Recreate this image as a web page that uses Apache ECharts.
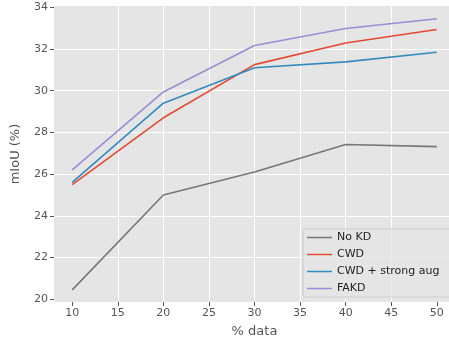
<!DOCTYPE html>
<html lang="en">
<head>
<meta charset="UTF-8">
<title>mIoU vs data</title>
<script src="https://cdn.jsdelivr.net/npm/echarts@6/dist/echarts.min.js"></script>
</head>
<body style="margin:0;background:#fff;overflow:hidden;">
<!-- the original figure is cropped on the right, so the chart is a bit wider than the window -->
<div id="main" style="width:455px;height:343px;"></div>
<script>
var dataPct = [10, 20, 30, 40, 50];
var seriesNames = ['No KD', 'CWD', 'CWD + strong aug', 'FAKD'];
var noKd = [20.45, 25.0, 26.1, 27.42, 27.32];
var cwd = [25.5, 28.7, 31.25, 32.29, 32.93];
var cwdStrong = [25.6, 29.4, 31.1, 31.38, 31.84];
var fakd = [26.2, 29.94, 32.17, 32.98, 33.45];
var colors = ['#777777', '#E24A33', '#348ABD', '#988ED5'];
var xTicks = [10, 15, 20, 25, 30, 35, 40, 45, 50];
var yTicks = [20, 22, 24, 26, 28, 30, 32, 34];

function pairs(vals) {
  return dataPct.map(function (x, i) { return [x, vals[i]]; });
}

var allVals = [noKd, cwd, cwdStrong, fakd];
var series = seriesNames.map(function (name, i) {
  return {
    name: name,
    type: 'line',
    data: pairs(allVals[i]),
    showSymbol: false,
    symbol: 'none',
    lineStyle: { color: colors[i], width: 1.6 },
    itemStyle: { color: colors[i] }
  };
});

var tickLabel = { color: '#555555', fontSize: 11, fontFamily: 'DejaVu Sans' };

var chart = echarts.init(document.getElementById('main'));
chart.setOption({
  animation: false,
  grid: { left: 54, right: 0, top: 6, bottom: 39.5, show: true, backgroundColor: '#E5E5E5', borderWidth: 0 },
  xAxis: {
    type: 'value', min: 8, max: 52,
    name: '% data', nameLocation: 'middle', nameGap: 23,
    nameTextStyle: { color: '#555555', fontSize: 13, fontFamily: 'DejaVu Sans' },
    axisLine: { show: false },
    axisTick: { show: true, length: 4, lineStyle: { color: '#555555' }, customValues: xTicks },
    axisLabel: Object.assign({ margin: 6, customValues: xTicks }, tickLabel),
    splitLine: { show: true, showMinLine: false, showMaxLine: false, lineStyle: { color: '#ffffff', width: 1 } }
  },
  yAxis: {
    type: 'value', min: 19.87, max: 34.06,
    name: 'mIoU (%)', nameLocation: 'middle', nameGap: 32,
    nameTextStyle: { color: '#555555', fontSize: 13, fontFamily: 'DejaVu Sans' },
    axisLine: { show: false },
    axisTick: { show: true, length: 4, lineStyle: { color: '#555555' }, customValues: yTicks },
    axisLabel: Object.assign({ margin: 6, customValues: yTicks }, tickLabel),
    splitLine: { show: true, showMinLine: false, showMaxLine: false, lineStyle: { color: '#ffffff', width: 1 } }
  },
  legend: {
    orient: 'vertical', left: 303, top: 229,
    data: seriesNames,
    icon: 'rect', itemWidth: 25, itemHeight: 1.5, itemGap: 6,
    padding: [3, 16, 3, 4],
    backgroundColor: 'rgba(229,229,229,0.8)', borderColor: '#CCCCCC', borderWidth: 1, borderRadius: 3,
    textStyle: { color: '#222222', fontSize: 11, fontFamily: 'DejaVu Sans' }
  },
  series: series
});
</script>
</body>
</html>
